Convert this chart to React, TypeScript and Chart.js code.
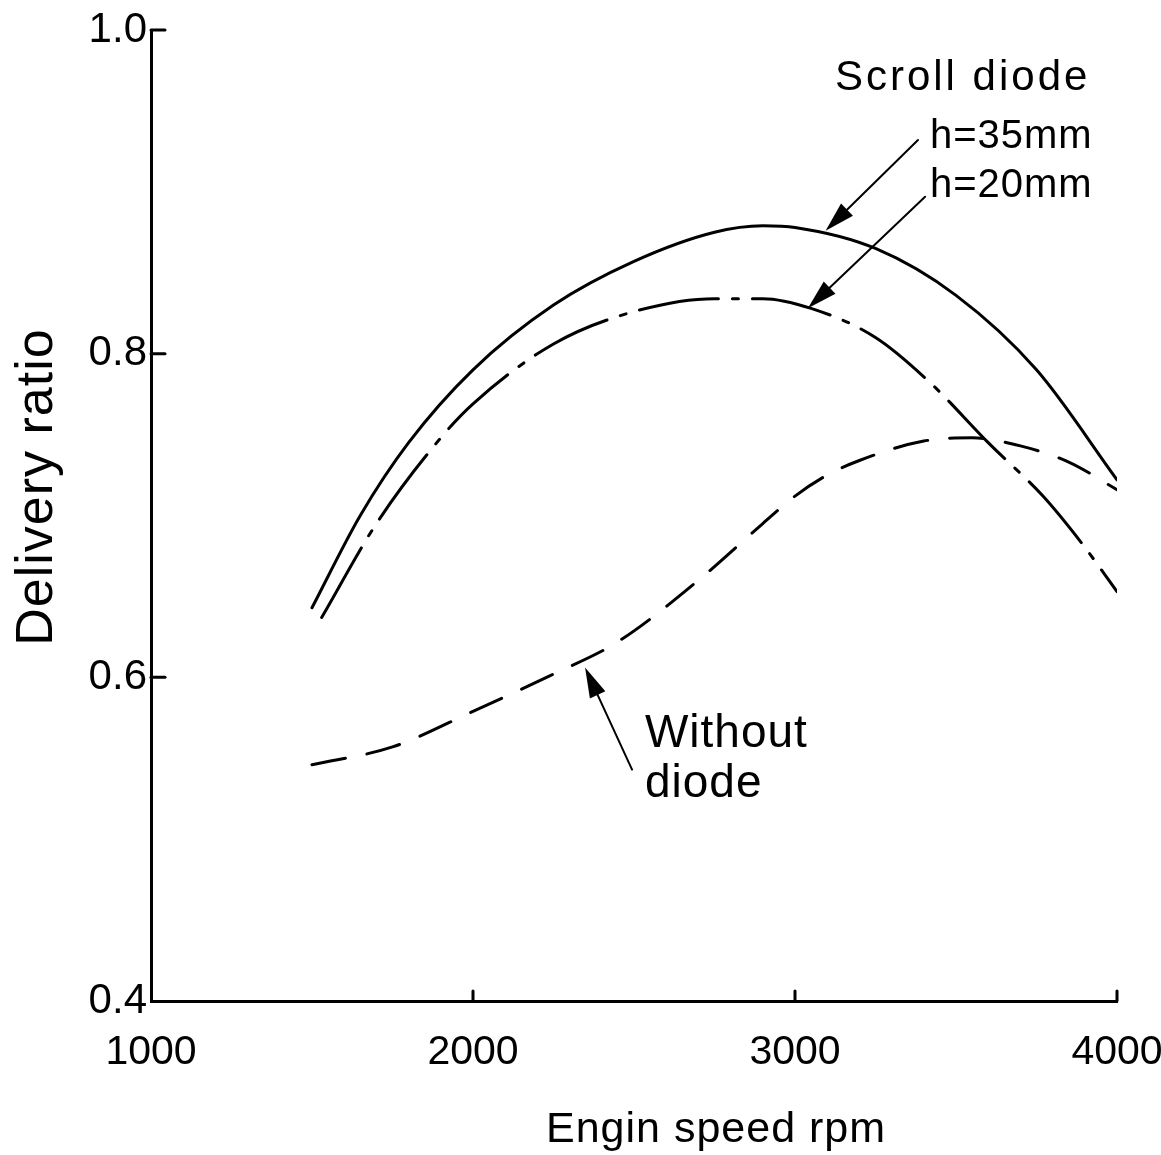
import React, { useEffect, useRef } from "react";
import { Chart, registerables } from "chart.js";

Chart.register(...registerables);

// Engine speed (rpm) and delivery ratio for each curve
const speedH35 = [1500, 1650, 1800, 2000, 2250, 2500, 2750, 2900, 3000, 3250, 3500, 3750, 4000];
const ratioH35 = [0.643, 0.7, 0.745, 0.79, 0.83, 0.857, 0.875, 0.879, 0.878, 0.865, 0.836, 0.79, 0.722];

const speedH20 = [1530, 1700, 1900, 2000, 2250, 2500, 2750, 2900, 3050, 3250, 3420, 3600, 3770, 3890, 4000];
const ratioH20 = [0.637, 0.695, 0.748, 0.769, 0.806, 0.826, 0.834, 0.834, 0.828, 0.81, 0.782, 0.745, 0.712, 0.683, 0.653];

const speedNone = [1500, 1750, 2000, 2250, 2450, 2700, 2900, 3000, 3100, 3200, 3400, 3550, 3700, 3850, 4000];
const ratioNone = [0.546, 0.557, 0.579, 0.602, 0.622, 0.66, 0.695, 0.712, 0.725, 0.734, 0.746, 0.748, 0.743, 0.733, 0.716];

const xTickValues = [1000, 2000, 3000, 4000];
const yTickValues = [0.4, 0.6, 0.8, 1.0];

const xTitle = "Engin speed rpm";
const yTitle = "Delivery ratio";

const toPoints = (xs: number[], ys: number[]) => xs.map((x, i) => ({ x, y: ys[i] }));

const TICK_FONT = "'Liberation Sans', sans-serif";
const TEXT_FONT = "'Liberation Sans', sans-serif";

function drawArrow(ctx: CanvasRenderingContext2D, x1: number, y1: number, x2: number, y2: number) {
  const ang = Math.atan2(y2 - y1, x2 - x1);
  const headLen = 30;
  const headHalf = 8.5;
  const bx = x2 - headLen * Math.cos(ang);
  const by = y2 - headLen * Math.sin(ang);
  ctx.beginPath();
  ctx.moveTo(x1, y1);
  ctx.lineTo(bx, by);
  ctx.lineWidth = 2;
  ctx.strokeStyle = "#000";
  ctx.stroke();
  ctx.beginPath();
  ctx.moveTo(x2, y2);
  ctx.lineTo(bx + headHalf * Math.sin(ang), by - headHalf * Math.cos(ang));
  ctx.lineTo(bx - headHalf * Math.sin(ang), by + headHalf * Math.cos(ang));
  ctx.closePath();
  ctx.fillStyle = "#000";
  ctx.fill();
}

const decorPlugin = {
  id: "decor",
  afterDraw(chart: any) {
    const ctx: CanvasRenderingContext2D = chart.ctx;
    const xs = chart.scales.x;
    const ys = chart.scales.y;
    const px = (v: number) => xs.getPixelForValue(v);
    const py = (v: number) => ys.getPixelForValue(v);
    ctx.save();
    // inward tick marks
    ctx.strokeStyle = "#000";
    ctx.lineWidth = 3;
    ctx.lineCap = "round";
    xTickValues.forEach((v) => {
      if (v === xs.min) return;
      ctx.beginPath();
      ctx.moveTo(px(v), ys.bottom);
      ctx.lineTo(px(v), ys.bottom - 10);
      ctx.stroke();
    });
    yTickValues.forEach((v) => {
      if (v === ys.min) return;
      ctx.beginPath();
      ctx.moveTo(xs.left, py(v));
      ctx.lineTo(xs.left + 14, py(v));
      ctx.stroke();
    });

    // arrows (tail -> tip), in data coordinates
    drawArrow(ctx, px(3382), py(0.932), px(3095), py(0.876));
    drawArrow(ctx, px(3404), py(0.897), px(3040), py(0.828));
    drawArrow(ctx, px(2494), py(0.543), px(2348), py(0.606));

    // annotation texts
    ctx.fillStyle = "#000";
    ctx.textAlign = "left";
    ctx.textBaseline = "alphabetic";
    (ctx as any).letterSpacing = "3px";
    ctx.font = `42px ${TEXT_FONT}`;
    ctx.fillText("Scroll diode", px(3124), py(0.963));
    (ctx as any).letterSpacing = "1px";
    ctx.font = `40px ${TEXT_FONT}`;
    ctx.fillText("h=35mm", px(3419), py(0.927));
    ctx.fillText("h=20mm", px(3419), py(0.897));
    ctx.font = `46px ${TEXT_FONT}`;
    ctx.fillText("Without", px(2534), py(0.557));
    ctx.fillText("diode", px(2534), py(0.526));

    // axis titles
    (ctx as any).letterSpacing = "1px";
    ctx.font = `43px ${TEXT_FONT}`;
    ctx.textAlign = "center";
    ctx.fillText(xTitle, 716, 1142);
    ctx.save();
    ctx.translate(52, 487);
    ctx.rotate(-Math.PI / 2);
    ctx.font = `52px ${TEXT_FONT}`;
    ctx.fillText(yTitle, 0, 0);
    ctx.restore();
    ctx.restore();
  },
};

export default function App() {
  const canvasRef = useRef<HTMLCanvasElement | null>(null);

  useEffect(() => {
    const canvas = canvasRef.current;
    if (!canvas) return;
    const common = {
      fill: false,
      pointRadius: 0,
      borderColor: "#000",
      borderWidth: 3,
      cubicInterpolationMode: "monotone" as const,
      borderCapStyle: "round" as const,
    };
    const chart = new Chart(canvas, {
      type: "line",
      data: {
        datasets: [
          { ...common, label: "Scroll diode h=35mm", data: toPoints(speedH35, ratioH35) },
          { ...common, label: "Scroll diode h=20mm", data: toPoints(speedH20, ratioH20), borderDash: [80, 14, 6, 14] },
          { ...common, label: "Without diode", data: toPoints(speedNone, ratioNone), borderDash: [34, 22] },
        ],
      },
      options: {
        animation: false,
        responsive: false,
        maintainAspectRatio: false,
        layout: { padding: { top: 30, right: 44, left: 0, bottom: 0 } },
        plugins: { legend: { display: false }, tooltip: { enabled: false } },
        scales: {
          x: {
            type: "linear",
            min: 1000,
            max: 4000,
            afterBuildTicks: (s: any) => {
              s.ticks = xTickValues.map((v) => ({ value: v }));
            },
            afterFit: (s: any) => {
              s.height = 154;
              s.paddingLeft = 0;
              s.paddingRight = 0;
            },
            grid: { display: false, drawTicks: false },
            border: { display: true, color: "#000", width: 3 },
            ticks: {
              color: "#000",
              font: { family: TICK_FONT, size: 41 },
              padding: 27,
              maxRotation: 0,
              autoSkip: false,
              callback: (v: any) => String(v),
            },
          },
          y: {
            type: "linear",
            min: 0.4,
            max: 1.0,
            afterBuildTicks: (s: any) => {
              s.ticks = yTickValues.map((v) => ({ value: v }));
            },
            afterFit: (s: any) => {
              s.width = 151;
              s.paddingTop = 0;
              s.paddingBottom = 0;
            },
            grid: { display: false, drawTicks: false },
            border: { display: true, color: "#000", width: 3 },
            ticks: {
              color: "#000",
              font: { family: TICK_FONT, size: 42 },
              padding: 4,
              autoSkip: false,
              callback: (v: any) => Number(v).toFixed(1),
            },
          },
        },
      },
      plugins: [decorPlugin],
    });
    return () => chart.destroy();
  }, []);

  return (
    <div style={{ position: "absolute", left: 0, top: 0, width: 1161, height: 1155, background: "#fff" }}>
      <canvas ref={canvasRef} width={1161} height={1155} style={{ width: 1161, height: 1155 }} />
    </div>
  );
}
